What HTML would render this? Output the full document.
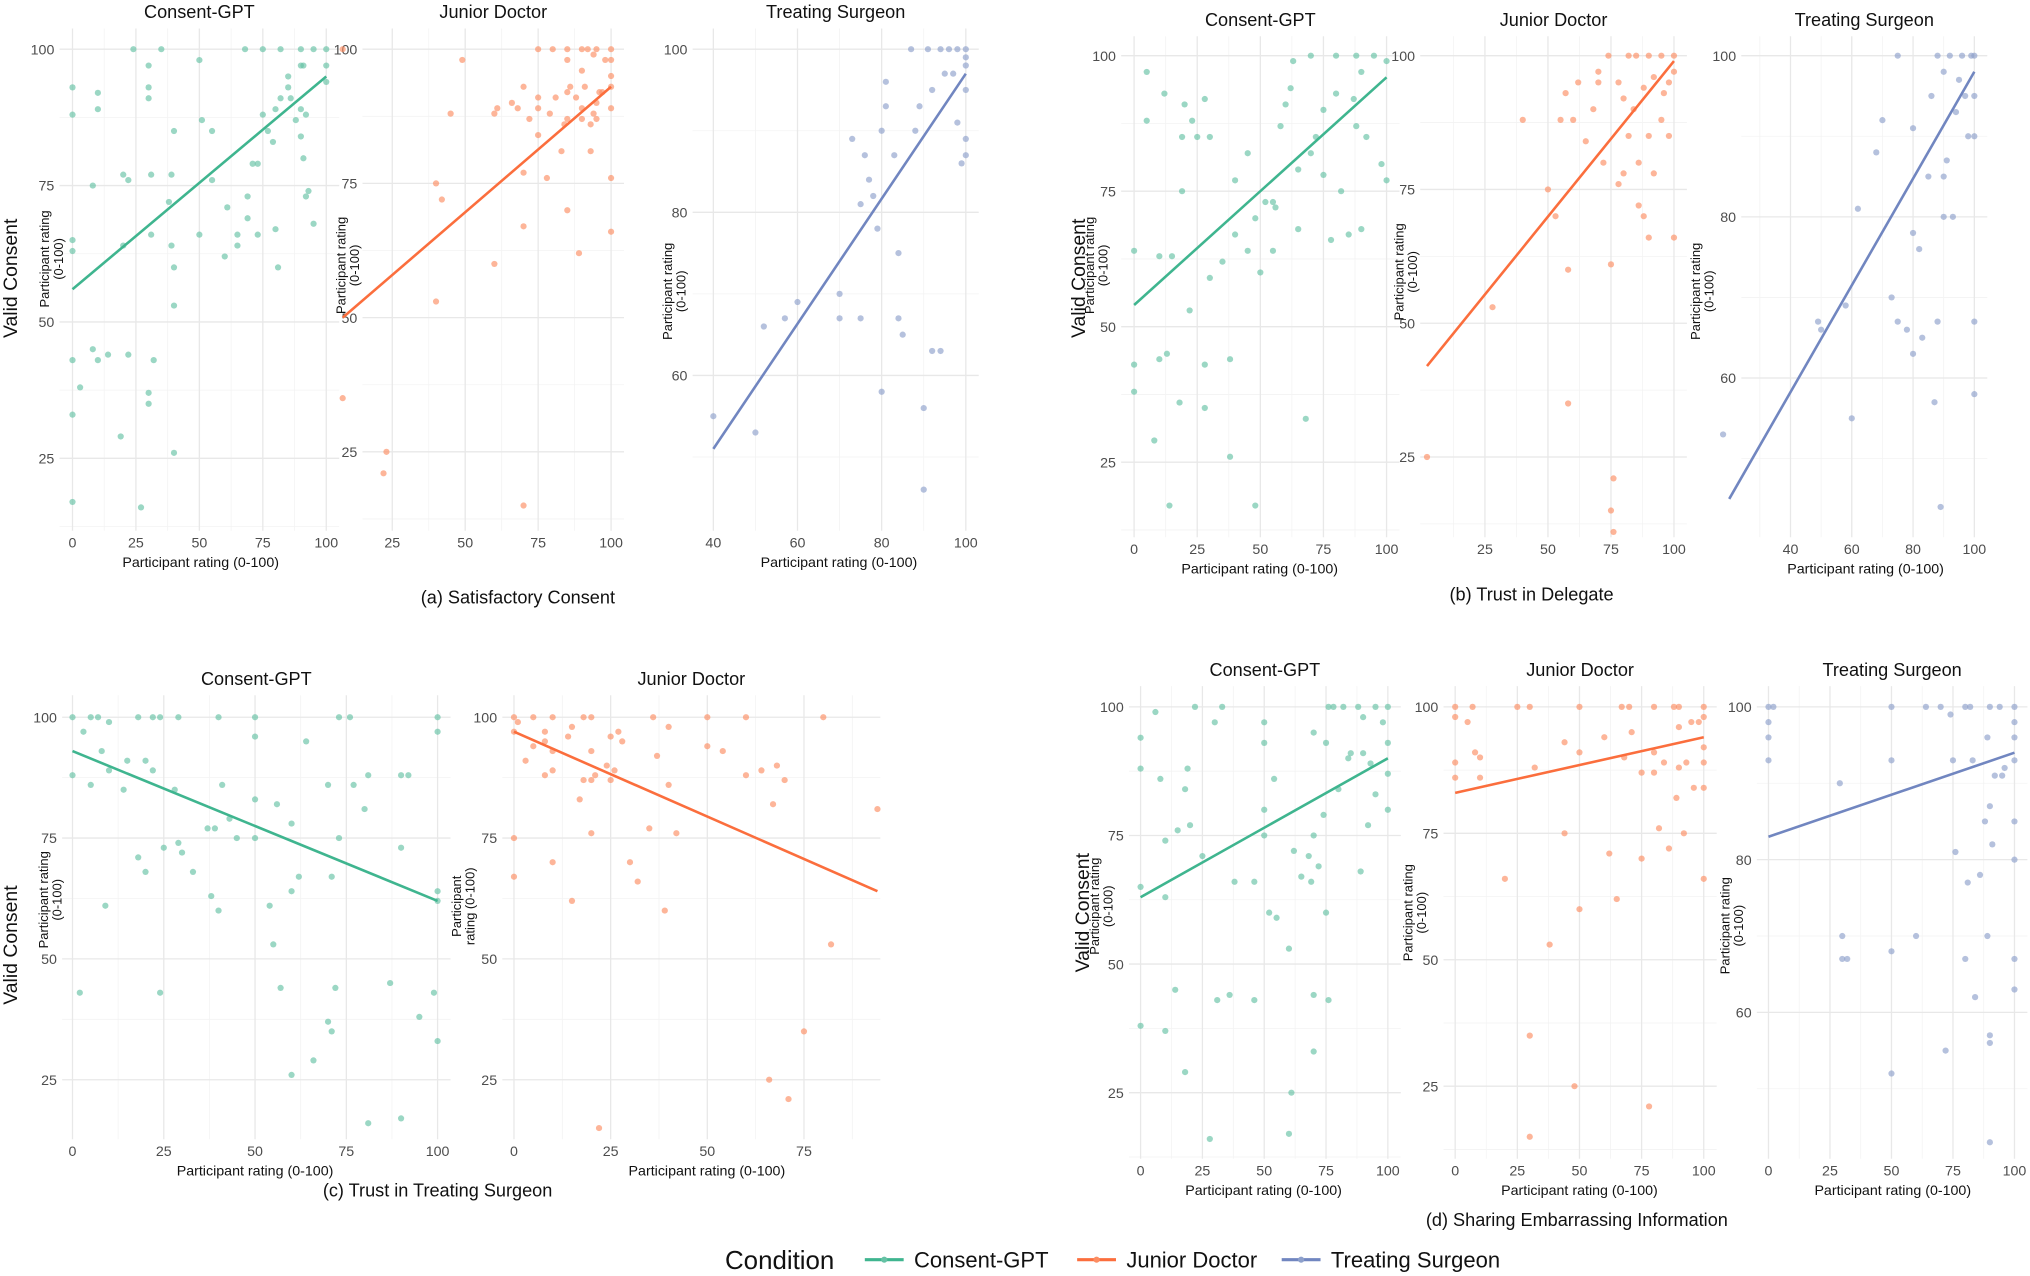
<!DOCTYPE html>
<html><head><meta charset="utf-8"><style>
html,body{margin:0;padding:0;background:#fff;}
svg{display:block;font-family:"Liberation Sans",sans-serif;}
</style></head><body>
<svg id="chart" width="2030" height="1276" viewBox="0 0 1568 985.6" xmlns="http://www.w3.org/2000/svg"></svg>
<script>
// ---- data ----
const ptsAGpt=[[0,93],[0,88],[0,65],[0,63],[0,43],[0,33],[0,17],[3,38],[8,45],[10,43],[8,75],[10,89],[10,92],[14,44],[20,64],[19,29],[20,77],[22,44],[24,100],[22,76],[27,16],[30,97],[30,93],[30,91],[31,66],[30,37],[30,35],[32,43],[31,77],[35,100],[40,85],[39,77],[38,72],[39,64],[40,60],[40,53],[40,26],[50,66],[50,98],[51,87],[55,85],[55,76],[60,62],[61,71],[65,66],[65,64],[68,100],[69,69],[69,73],[71,79],[73,79],[73,66],[75,100],[75,88],[77,85],[79,83],[80,89],[80,67],[81,60],[82,100],[82,91],[85,93],[85,95],[86,91],[88,87],[90,100],[90,97],[90,89],[90,84],[91,80],[92,88],[92,73],[93,74],[95,100],[95,68],[91,97],[100,100],[100,97],[100,94]];
const ptsAJun=[[8,100],[8,35],[23,25],[22,21],[40,53],[40,75],[42,72],[45,88],[49,98],[60,60],[60,88],[61,89],[66,90],[68,89],[70,77],[70,67],[70,15],[70,93],[72,87],[75,100],[75,91],[75,89],[75,84],[78,76],[79,88],[80,100],[81,91],[83,81],[84,86],[85,100],[85,98],[85,92],[85,87],[85,70],[86,93],[88,91],[89,62],[90,100],[90,96],[90,89],[90,87],[91,93],[92,100],[93,86],[93,81],[94,88],[94,99],[95,100],[95,87],[95,90],[96,92],[97,92],[98,98],[100,100],[100,98],[100,95],[100,93],[100,89],[100,76],[100,66]];
const ptsATre=[[40,55],[50,53],[52,66],[57,67],[60,69],[70,70],[70,67],[73,89],[75,67],[75,81],[76,87],[77,84],[78,82],[79,78],[80,58],[80,90],[81,93],[81,96],[83,87],[84,75],[84,67],[85,65],[87,100],[88,90],[89,93],[90,56],[90,46],[91,100],[92,95],[92,63],[94,63],[94,100],[95,97],[96,100],[97,97],[98,100],[98,91],[99,86],[100,100],[100,98],[100,95],[100,89],[100,87],[100,99]];
const ptsBGpt=[[0,64],[0,43],[0,38],[5,97],[5,88],[8,29],[10,63],[10,44],[12,93],[13,45],[14,17],[15,63],[18,36],[19,75],[19,85],[20,91],[22,53],[23,88],[25,85],[28,43],[28,35],[28,92],[30,59],[30,85],[35,62],[38,44],[38,26],[40,67],[40,77],[45,64],[45,82],[48,70],[48,17],[50,60],[52,73],[55,73],[55,64],[56,72],[58,87],[60,91],[62,94],[63,99],[65,68],[65,79],[68,33],[70,82],[70,100],[72,85],[75,78],[75,90],[78,66],[80,93],[80,100],[82,75],[85,67],[87,92],[88,100],[88,87],[90,97],[90,68],[92,85],[95,100],[98,80],[100,99],[100,77]];
const ptsBJun=[[2,25],[28,53],[40,88],[50,75],[53,70],[55,88],[57,93],[58,60],[58,35],[60,88],[62,95],[65,84],[68,90],[70,95],[70,97],[72,80],[74,100],[75,61],[75,15],[76,11],[76,21],[78,76],[78,95],[80,92],[80,78],[82,100],[82,85],[84,90],[85,100],[86,72],[86,80],[88,94],[88,70],[90,100],[90,85],[90,66],[92,96],[92,78],[95,100],[95,88],[96,93],[98,85],[98,95],[100,100],[100,66],[100,97]];
const ptsBTre=[[18,53],[49,67],[50,66],[58,69],[60,55],[62,81],[68,88],[70,92],[73,70],[75,100],[75,67],[78,66],[80,63],[80,78],[80,91],[82,76],[83,65],[85,85],[86,95],[87,57],[88,100],[88,67],[89,44],[90,98],[90,85],[90,80],[91,87],[92,100],[93,80],[94,93],[95,97],[96,100],[97,95],[98,90],[99,100],[100,95],[100,67],[100,58],[100,100],[100,90]];
const ptsCGpt=[[0,100],[0,88],[2,43],[3,97],[5,86],[5,100],[7,100],[9,61],[8,93],[10,99],[10,89],[14,85],[15,91],[18,71],[18,100],[20,68],[20,91],[22,89],[22,100],[24,100],[24,43],[25,73],[29,74],[28,85],[30,72],[29,100],[33,68],[37,77],[39,77],[38,63],[40,100],[40,60],[41,86],[43,79],[45,75],[50,96],[50,83],[50,100],[50,75],[54,61],[55,53],[57,44],[56,82],[60,78],[60,64],[60,26],[62,67],[64,95],[66,29],[70,86],[73,100],[70,37],[71,35],[72,44],[71,67],[76,100],[77,86],[73,75],[80,81],[81,16],[81,88],[87,45],[90,88],[90,17],[90,73],[92,88],[95,38],[99,43],[100,33],[100,100],[100,97],[100,64],[100,62]];
const ptsCJun=[[0,100],[0,97],[0,75],[0,67],[1,99],[3,91],[5,94],[5,100],[8,95],[8,97],[8,88],[10,93],[10,70],[10,100],[10,89],[14,96],[15,62],[15,98],[17,83],[18,87],[18,100],[20,93],[20,87],[20,76],[20,100],[21,88],[22,15],[24,90],[25,96],[25,87],[26,89],[27,97],[28,95],[30,70],[32,66],[35,77],[36,100],[37,92],[39,60],[40,98],[40,86],[42,76],[50,100],[50,94],[54,93],[60,88],[60,100],[64,89],[66,25],[67,82],[68,90],[70,87],[71,21],[75,35],[80,100],[82,53],[94,81]];
const ptsDGpt=[[0,94],[0,88],[0,65],[0,38],[6,99],[8,86],[10,74],[10,63],[10,37],[14,45],[15,76],[18,84],[18,29],[19,88],[20,77],[22,100],[25,71],[28,16],[30,97],[31,43],[33,100],[36,44],[38,66],[46,66],[46,43],[50,97],[50,93],[50,80],[50,75],[52,60],[54,86],[55,59],[60,53],[61,25],[60,17],[62,72],[65,67],[68,71],[69,66],[70,44],[70,33],[70,95],[70,75],[72,69],[74,79],[75,93],[75,60],[76,43],[76,100],[78,100],[80,84],[82,100],[84,90],[85,91],[88,100],[89,68],[90,98],[90,91],[92,77],[93,89],[95,100],[95,83],[98,97],[100,100],[100,93],[100,87],[100,80]];
const ptsDJun=[[0,100],[0,98],[0,89],[0,86],[5,97],[7,100],[8,91],[10,90],[10,86],[20,66],[25,100],[30,100],[30,35],[30,15],[32,88],[38,53],[44,93],[44,75],[48,25],[50,100],[50,91],[50,60],[60,94],[62,71],[65,62],[67,100],[68,90],[70,100],[71,95],[75,87],[75,70],[78,21],[80,100],[80,91],[80,87],[82,76],[84,89],[86,72],[88,100],[89,82],[90,100],[90,96],[90,88],[92,75],[93,89],[95,97],[96,84],[98,97],[100,100],[100,98],[100,92],[100,89],[100,84],[100,66]];
const ptsDTre=[[0,100],[0,98],[0,96],[0,93],[2,100],[30,70],[30,67],[32,67],[29,90],[50,100],[50,93],[50,68],[50,52],[60,70],[64,100],[70,100],[72,55],[74,99],[75,93],[76,81],[80,100],[80,67],[81,77],[82,100],[83,93],[84,62],[86,78],[88,85],[89,96],[89,70],[90,100],[90,87],[90,57],[90,56],[90,43],[91,82],[92,91],[94,100],[95,91],[96,92],[100,100],[100,98],[100,96],[100,93],[100,85],[100,80],[100,67],[100,63]];
// regression line endpoints [x0,y0,x1,y1]
const lineAGpt=[0,56,100,95], lineAJun=[8,50,100,93], lineATre=[40,51,100,97];
const lineBGpt=[0,54,100,96], lineBJun=[2,42,100,99], lineBTre=[20,45,100,98];
const lineCGpt=[0,93,100,62], lineCJun=[0,97,94,64];
const lineDGpt=[0,63,100,90], lineDJun=[0,83,100,94], lineDTre=[0,83,100,94];
const ticks100=[0,25,50,75,100], ticks25=[25,50,75,100], ticks40=[40,60,80,100], ticksTreY=[60,80,100], ticksC=[0,25,50,75];
const legendLabels=["Consent-GPT","Junior Doctor","Treating Surgeon"];
const colors={g:"#66c2a5",o:"#fc8d62",b:"#8da0cb"};
const lineColors={g:"#3fb58f",o:"#fb6e3d",b:"#7186c0"};

const svg=document.getElementById('chart');
const NS="http://www.w3.org/2000/svg";
function mk(tag,at,parent){const e=document.createElementNS(NS,tag);for(const k in at)e.setAttribute(k,at[k]);(parent||svg).appendChild(e);return e;}
function txt(s,at,parent){const e=mk('text',at,parent);e.textContent=s;return e;}

function panel(p){
  const g=mk('g',{});
  
  
  const sx=v=>p.xm[1]+(v-p.xm[0])*(p.xm[3]-p.xm[1])/(p.xm[2]-p.xm[0]);
  const sy=v=>p.ym[1]+(v-p.ym[0])*(p.ym[3]-p.ym[1])/(p.ym[2]-p.ym[0]);
  const [L,R,T,B]=p.rect;
  const xstep=p.xt[1]-p.xt[0], ystep=p.yt[1]-p.yt[0];
  for(let i=-3;i<p.xt.length+2;i++){const v=p.xt[0]+(i+0.5)*xstep;const x=sx(v);if(x>L&&x<R){const l=mk('line',{x1:x,x2:x,y1:T,y2:B,stroke:'#f3f3f3','stroke-width':0.6},g);}}
  for(let i=-3;i<p.yt.length+2;i++){const v=p.yt[0]+(i+0.5)*ystep;const y=sy(v);if(y>T&&y<B){const l=mk('line',{x1:L,x2:R,y1:y,y2:y,stroke:'#f3f3f3','stroke-width':0.6},g);}}
  p.xt.forEach(v=>{const x=sx(v);if(x<L-1||x>R+1)return;const l=mk('line',{x1:x,x2:x,y1:T,y2:B,stroke:'#e8e8e8','stroke-width':1},g);
    const t=txt(String(v),{x:x,y:B+13,'font-size':11,fill:'#4d4d4d','text-anchor':'middle'},g);});
  p.yt.forEach(v=>{const y=sy(v);if(y<T-1||y>B+1)return;const l=mk('line',{x1:L,x2:R,y1:y,y2:y,stroke:'#e8e8e8','stroke-width':1},g);
    const t=txt(String(v),{x:L-4,y:y+4,'font-size':11,fill:'#4d4d4d','text-anchor':'end'},g);});
  p.pts.forEach(d=>{const c=mk('circle',{cx:sx(d[0]),cy:sy(d[1]),r:2.4,fill:colors[p.c],'fill-opacity':0.65},g);});
  const ln=p.line;const l=mk('line',{x1:sx(ln[0]),y1:sy(ln[1]),x2:sx(ln[2]),y2:sy(ln[3]),stroke:lineColors[p.c],'stroke-width':2},g);
  
  const t=txt(p.title,{x:(L+R)/2,y:T-8,'font-size':14,fill:'#111','text-anchor':'middle'},g);
  const yl=p.ylab;const yg=mk('text',{transform:`translate(${yl[0]},${yl[2]}) rotate(-90)`,'font-size':10,fill:'#111','text-anchor':'middle'},g);
  
  yl[1].forEach((s,i)=>{const ts=mk('tspan',{x:0,dy:i?10.5:0},yg);ts.textContent=s;});
  if(p.xlab){const xt=txt('Participant rating (0-100)',{x:p.xlab,y:B+28,'font-size':11,fill:'#111','text-anchor':'middle'},g);}
}
const two=['Participant rating','(0-100)'];
panel({name:'panel-a-consent-gpt',rect:[46,262,22,410],xm:[0,56,100,252],ym:[100,38,25,354],xt:ticks100,yt:ticks100,pts:ptsAGpt,line:lineAGpt,c:'g',title:'Consent-GPT',ylab:[38,two,200],xlab:155});
panel({name:'panel-a-junior-doctor',rect:[280,482,22,410],xm:[25,303,100,472],ym:[100,38,25,349],xt:ticks25,yt:ticks100,pts:ptsAJun,line:lineAJun,c:'o',title:'Junior Doctor',ylab:[267,two,205],xlab:null});
panel({name:'panel-a-treating-surgeon',rect:[535,756,22,410],xm:[40,551,100,746],ym:[100,38,60,290],xt:ticks40,yt:ticksTreY,pts:ptsATre,line:lineATre,c:'b',title:'Treating Surgeon',ylab:[519,two,225],xlab:648});
panel({name:'panel-b-consent-gpt',rect:[866,1081,28,415],xm:[0,876,100,1071],ym:[100,43,25,357],xt:ticks100,yt:ticks100,pts:ptsBGpt,line:lineBGpt,c:'g',title:'Consent-GPT',ylab:[845,two,205],xlab:973});
panel({name:'panel-b-junior-doctor',rect:[1097,1303,28,415],xm:[25,1147,100,1293],ym:[100,43,25,353],xt:ticks25,yt:ticks100,pts:ptsBJun,line:lineBJun,c:'o',title:'Junior Doctor',ylab:[1084,two,210],xlab:null});
panel({name:'panel-b-treating-surgeon',rect:[1345,1535,28,415],xm:[40,1383,100,1525],ym:[100,43,60,292],xt:ticks40,yt:ticksTreY,pts:ptsBTre,line:lineBTre,c:'b',title:'Treating Surgeon',ylab:[1313,two,225],xlab:1441});
panel({name:'panel-c-consent-gpt',rect:[48,348,537,880],xm:[0,56,100,338],ym:[100,554,25,834],xt:ticks100,yt:ticks100,pts:ptsCGpt,line:lineCGpt,c:'g',title:'Consent-GPT',ylab:[37,two,695],xlab:197});
panel({name:'panel-c-junior-doctor',rect:[388,680,537,880],xm:[0,397,75,621],ym:[100,554,25,834],xt:ticksC,yt:ticks100,pts:ptsCJun,line:lineCJun,c:'o',title:'Junior Doctor',ylab:[356,['Participant','rating (0-100)'],700],xlab:546});
panel({name:'panel-d-consent-gpt',rect:[872,1082,530,895],xm:[0,881,100,1072],ym:[100,546,25,844],xt:ticks100,yt:ticks100,pts:ptsDGpt,line:lineDGpt,c:'g',title:'Consent-GPT',ylab:[849,two,700],xlab:976});
panel({name:'panel-d-junior-doctor',rect:[1115,1326,530,895],xm:[0,1124,100,1316],ym:[100,546,25,839],xt:ticks100,yt:ticks100,pts:ptsDJun,line:lineDJun,c:'o',title:'Junior Doctor',ylab:[1091,two,705],xlab:1220});
panel({name:'panel-d-treating-surgeon',rect:[1357,1566,530,895],xm:[0,1366,100,1556],ym:[100,546,60,782],xt:ticks100,yt:ticksTreY,pts:ptsDTre,line:lineDTre,c:'b',title:'Treating Surgeon',ylab:[1336,two,715],xlab:1462});

[[13,215],[13,730],[838,215],[841,705]].forEach(p=>{const t=txt('Valid Consent',{transform:`translate(${p[0]},${p[1]}) rotate(-90)`,'font-size':15,fill:'#111','text-anchor':'middle'});
  });
[['(a)  Satisfactory Consent',400,466],['(b)  Trust in Delegate',1183,464],['(c)  Trust in Treating Surgeon',338,924],['(d)  Sharing Embarrassing Information',1218,947]].forEach(c=>{
  const t=txt(c[0],{x:c[1],y:c[2],'font-size':14,fill:'#111','text-anchor':'middle'});});
const lg=mk('g',{});
const lt=txt('Condition',{x:560,y:980,'font-size':20,fill:'#111'},lg);
const lx=[668,832,990];const lc=['g','o','b'];
legendLabels.forEach((s,i)=>{const e=mk('g',{},lg);
  mk('line',{x1:lx[i],x2:lx[i]+30,y1:973,y2:973,stroke:lineColors[lc[i]],'stroke-width':2.5},e);
  mk('circle',{cx:lx[i]+15,cy:973,r:2.4,fill:colors[lc[i]]},e);
  txt(s,{x:lx[i]+38,y:979,'font-size':17,fill:'#111'},e);});
</script>
</body></html>
